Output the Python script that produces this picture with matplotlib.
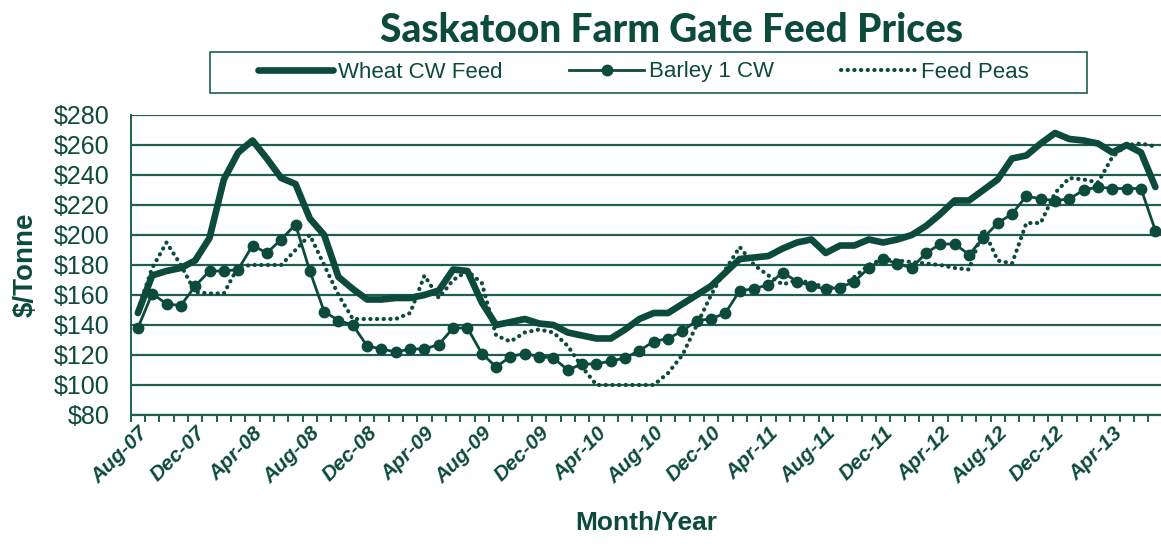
import matplotlib
matplotlib.use("Agg")
from matplotlib import pyplot as plt
from matplotlib.patches import Rectangle
import matplotlib.ticker as tck
import pandas as pd

plt.rcParams.update({
    "font.family": ["Liberation Sans", "DejaVu Sans"],
})

GREEN = "#0c4a3c"
GRID = "#1f5f52"

months = pd.date_range("2007-08-01", periods=72, freq="MS").strftime("%b-%y").tolist()

wheat = [148, 173, 176, 178, 183, 198, 237, 255, 263, 251, 238, 234, 211, 200, 172,
         164, 157, 157, 158, 158, 160, 163, 177, 176, 155, 140, 142, 144, 141,
         140, 135, 133, 131, 131, 137, 144, 148, 148, 154, 160, 166, 175, 184,
         185, 186, 191, 195, 197, 188, 193, 193, 197, 195, 197, 200, 206, 214,
         223, 223, 230, 237, 251, 253, 261, 268, 264, 263, 261, 255, 260, 255, 232]

barley = [138, 161, 154, 153, 166, 176, 176, 177, 193, 188, 197, 207, 176, 149, 143,
          140, 126, 124, 122, 124, 124, 127, 138, 138, 121, 112, 119, 121, 119,
          118, 110, 114, 114, 116, 118, 123, 129, 131, 136, 143, 144, 148, 163,
          164, 167, 175, 169, 166, 164, 165, 169, 178, 184, 181, 178, 188, 194,
          194, 187, 198, 208, 214, 226, 224, 223, 224, 230, 232, 231, 231, 231, 203]

peas = [150, 178, 195, 180, 162, 161, 161, 179, 180, 180, 180, 190, 200, 180, 160,
        144, 144, 144, 144, 148, 173, 158, 170, 176, 168, 133, 129, 135, 137,
        135, 126, 112, 100, 100, 100, 100, 100, 108, 120, 140, 160, 177, 192,
        180, 173, 167, 170, 168, 165, 165, 172, 180, 184, 183, 182, 181, 180,
        178, 177, 204, 183, 181, 208, 208, 228, 238, 237, 235, 252, 260, 261, 259]

x = list(range(len(months)))

fig = plt.figure(figsize=(11.61, 5.44), dpi=100)
ax = fig.add_axes([130.7 / 1161, 129 / 544, 1031.8 / 1161, 300 / 544])

ax.plot(x, wheat, color=GREEN, lw=4.8, solid_capstyle="round", solid_joinstyle="round",
        label="Wheat CW Feed", zorder=4)
ax.plot(x, barley, color=GREEN, lw=2.0, marker="o", ms=7.5, label="Barley 1 CW", zorder=5)
ax.plot(x, peas, color=GREEN, lw=3.0, linestyle=(0, (0.05, 1.55)), dash_capstyle="round",
        label="Feed Peas", zorder=3)

ax.set_xlim(-0.5, 71.5)
ax.set_ylim(80, 280)
ax.set_yticks(range(80, 281, 20))
ax.yaxis.set_major_formatter(tck.FuncFormatter(lambda v, p: f"${v:.0f}"))
ax.grid(axis="y", color=GRID, lw=1.6)
ax.set_axisbelow(True)

ax.set_xticks(x[::4])
ax.set_xticklabels(months[::4], rotation=45, ha="right", rotation_mode="anchor",
                   fontsize=15, fontweight="bold", fontstyle="italic", color=GREEN)
ax.set_xticks([i - 0.5 for i in range(73)], minor=True)
ax.tick_params(axis="x", which="major", length=0, pad=6)
ax.tick_params(axis="x", which="minor", length=5, width=1.4, color=GRID, direction="out")
ax.tick_params(axis="y", length=0, labelsize=18, labelcolor=GREEN, pad=15)

for s in ["top", "right"]:
    ax.spines[s].set_visible(False)
ax.spines["left"].set_color(GRID)
ax.spines["left"].set_linewidth(1.4)
ax.spines["bottom"].set_color(GRID)
ax.spines["bottom"].set_linewidth(1.6)

ax.set_ylabel("$/Tonne", fontsize=20, fontweight="bold", color=GREEN, labelpad=11)
ax.set_xlabel("Month/Year", fontsize=19, fontweight="bold", color=GREEN, labelpad=17)

fig.text(671 / 1161, 1 - 30 / 544, "Saskatoon Farm Gate Feed Prices", ha="center", va="center",
         fontsize=28, fontweight="black", color=GREEN, family="Lato")

# legend box drawn separately so it can be wider than its entries
fig.patches.append(Rectangle((210 / 1161, 1 - 93 / 544), 877 / 1161, 41 / 544,
                             transform=fig.transFigure, fill=False, ec=GRID, lw=1.2))
leg = fig.legend(loc="center", bbox_to_anchor=(643 / 1161, 1 - 72 / 544), ncol=3,
                 frameon=False, handlelength=3.4, handletextpad=0.2, columnspacing=3.0,
                 prop={"size": 16, "family": ["Liberation Sans Narrow", "Liberation Sans"]})
for t in leg.get_texts():
    t.set_color(GREEN)

fig.savefig("out.png", dpi=100)
